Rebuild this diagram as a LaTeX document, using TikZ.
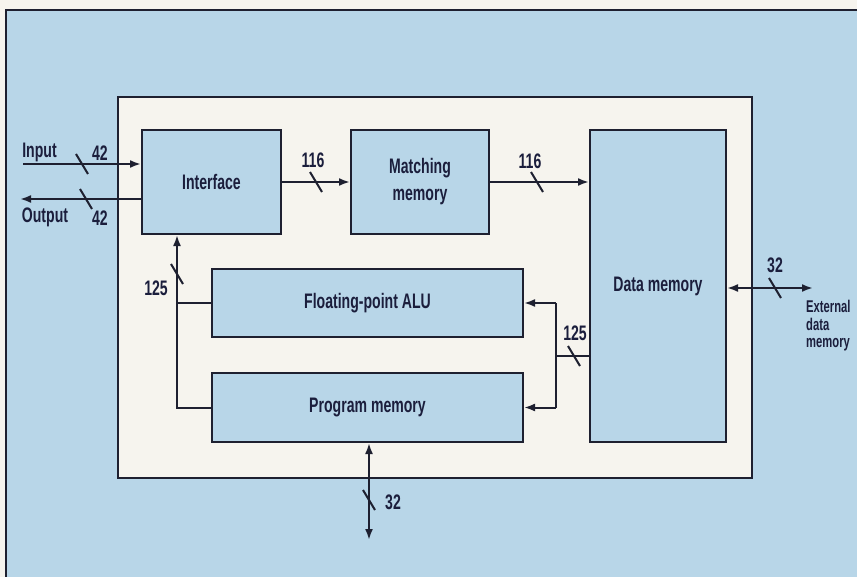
\documentclass[tikz,border=0pt]{standalone}
\usepackage{fontspec}
\setmainfont{Liberation Sans}[FakeStretch=0.67]
\newfontfamily\narrowfont{Liberation Sans}[FakeStretch=0.66]
\usetikzlibrary{arrows.meta}
\definecolor{bgblue}{HTML}{B8D6E8}
\definecolor{cream}{HTML}{F6F4EE}
\definecolor{ink}{HTML}{1E2030}
\definecolor{txt}{HTML}{1B1E3C}
\tikzset{
  lbl/.style={font=\fontsize{21bp}{18bp}\selectfont\bfseries, text=txt, inner sep=0pt},
  box/.style={draw=ink, fill=bgblue, line width=2bp, inner sep=0pt, align=center,
              font=\fontsize{21bp}{27bp}\selectfont\bfseries, text=txt},
  conn/.style={draw=ink, line width=2bp},
  arr/.style={conn, -{Latex[length=11bp,width=8bp]}},
  darr/.style={conn, {Latex[length=11bp,width=8bp]}-{Latex[length=11bp,width=8bp]}},
  tick/.pic={\draw[ink, line width=2bp] (-6,-10) -- (6,10);}
}
\begin{document}
\begin{tikzpicture}[x=1bp,y=-1bp]
\useasboundingbox (0,0) rectangle (857,577);
\fill[cream] (0,0) rectangle (857,577);
\fill[bgblue] (6,10) rectangle (857,577);
\draw[ink, line width=2bp] (6,577) -- (6,10) -- (857,10);
\draw[ink, line width=2bp, fill=cream] (118,97) rectangle (752,478);

% blocks
\node[box, minimum width=139bp, minimum height=104bp] (iface) at (211.5,182) {Interface};
\node[box, minimum width=138bp, minimum height=104bp] (match) at (420,182) {Matching\\memory};
\node[box, minimum width=136bp, minimum height=312bp] (data) at (658,286) {Data memory};
\node[box, minimum width=311bp, minimum height=68bp] (alu) at (367.5,303) {Floating-point ALU};
\node[box, minimum width=311bp, minimum height=69bp] (prog) at (367.5,407.5) {Program memory};

% free ends
\coordinate (inL) at (23,164);
\coordinate (outL) at (20,199);
\coordinate (bl) at (177,407.5);
\coordinate (br) at (556,356);
\coordinate (bt) at (369,540);
\coordinate (ext) at (813,288);

% connectors
\draw[arr] (inL) -- (inL -| iface.west);
\draw[arr] (outL -| iface.west) -- (outL);
\draw[arr] (iface.east) -- (match.west);
\draw[arr] (match.east) -- (data.west |- match.east);
\draw[arr] (prog.west) -- (bl) -- (bl |- iface.south);
\draw[conn] (alu.west) -- (alu.west -| bl);
\draw[conn] (data.west |- br) -- (br);
\draw[conn] (alu.east -| br) -- (prog.east -| br);
\draw[arr] (alu.east -| br) -- (alu.east);
\draw[arr] (prog.east -| br) -- (prog.east);
\draw[darr] (prog.south -| bt) -- (bt);
\draw[darr] (data.east |- ext) -- (ext);

% bus width ticks
\pic at (82,164) {tick};
\pic at (86,199) {tick};
\pic at (316,182) {tick};
\pic at (537,182) {tick};
\pic at (177,274) {tick};
\pic at (574,356) {tick};
\pic at (369,500) {tick};
\pic at (775,288) {tick};

% labels
\node[lbl] (tin) at (39.5,152) {Input};
\node[lbl] (nin) at (100,153) {42};
\node[lbl] (tout) at (45,217) {Output};
\node[lbl] (nout) at (100,218) {42};
\node[lbl] (n116a) at (313,160) {116};
\node[lbl] (n116b) at (530,161) {116};
\node[lbl] (n125a) at (156,288) {125};
\node[lbl] (n125b) at (575,333) {125};
\node[lbl] (n32a) at (393,502) {32};
\node[lbl] (n32b) at (775,265) {32};
\node[lbl, font=\fontsize{17bp}{17.5bp}\selectfont\narrowfont\bfseries, anchor=north west, align=left] (extl) at (806,300) {External\\data\\memory};
\end{tikzpicture}
\end{document}
